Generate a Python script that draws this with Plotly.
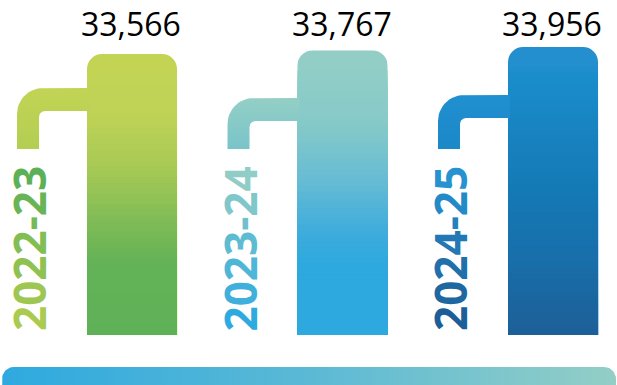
import numpy as np
import plotly.graph_objects as go

# ---- data -------------------------------------------------------------
years = ["2022-23", "2023-24", "2024-25"]
students = [33566, 33767, 33956]

# ---- styling ------------------------------------------------------------
W, H = 617, 385
PLOT_BOTTOM_PX = 335                     # bottom edge of the bar area
X_RANGE = [-0.6271, 2.3040]
Y_RANGE = [17900, 36580]
BAR_WIDTH = 0.4276

# vertical gradient stops for each bar: (fraction from top, colour)
bar_stops = [
    [(0.0, "#c3d455"), (0.2, "#c0d356"), (0.4, "#a8ca55"), (0.6, "#7fbb57"), (0.75, "#63b257"), (1.0, "#5fb157")],
    [(0.0, "#95cfc6"), (0.25, "#87cac8"), (0.45, "#68bcd3"), (0.65, "#3cabdc"), (0.75, "#2ea9df"), (1.0, "#2ea9df")],
    [(0.0, "#2890d0"), (0.1, "#1b8dcb"), (0.5, "#1479b5"), (0.75, "#186ea8"), (1.0, "#1d5f98")],
]
pipe_colors = [("#b3ce52", "#c2d455"), ("#79c4c9", "#94cfc6"), ("#1b88c8", "#2190d0")]   # bottom, top
label_colors = [("#aacb50", "#5cb157"), ("#2eaadf", "#8fcdc6"), ("#1c5f98", "#2692d0")]  # bottom, top
band_scale = [[0, "#2ea9df"], [0.5, "#5bb9d5"], [1, "#93cec6"]]
pipe_top_px = [88, 98, 95]


def hex_rgb(h):
    h = h.lstrip("#")
    return np.array([int(h[i:i + 2], 16) for i in (0, 2, 4)], dtype=float)


def rgb_hex(c):
    return "#%02x%02x%02x" % tuple(int(round(v)) for v in c)


def mix(a, b, t):
    return rgb_hex(hex_rgb(a) * (1 - t) + hex_rgb(b) * t)


def color_at(stops, f):
    for (f0, c0), (f1, c1) in zip(stops[:-1], stops[1:]):
        if f <= f1:
            return mix(c0, c1, (f - f0) / (f1 - f0) if f1 > f0 else 0)
    return stops[-1][1]


x_span = X_RANGE[1] - X_RANGE[0]
y_span = Y_RANGE[1] - Y_RANGE[0]


def x_px(x):
    return (x - X_RANGE[0]) / x_span * W


def px_x(px):
    return X_RANGE[0] + px / W * x_span


def px_y(py):
    return Y_RANGE[0] + (PLOT_BOTTOM_PX - py) / PLOT_BOTTOM_PX * y_span


fig = go.Figure()
xs = list(range(len(years)))

# ---- connector pipes (drawn first so bars sit on top) ------------------
def arc(cx, cy, r, a0, a1, n=14):
    t = np.radians(np.linspace(a0, a1, n))
    return cx + r * np.cos(t), cy - r * np.sin(t)


for i, x in enumerate(xs):
    cx = x_px(x)
    top = pipe_top_px[i]
    bot = top + 23
    left, inner, right, foot = -115, -93, -43, 149
    R, r = 26, 6
    ax, ay = arc(left + R, top + R, R, 90, 180)
    bx, by = arc(inner + r, bot + r, r, 180, 90)
    pxs = np.concatenate([[right], ax, [left, inner], bx, [right, right]])
    pys = np.concatenate([[top], ay, [foot, foot], by, [bot, top]])
    fig.add_trace(go.Scatter(
        x=[px_x(cx + p) for p in pxs], y=[px_y(q) for q in pys],
        mode="lines", line=dict(width=0), fill="toself",
        fillgradient=dict(type="vertical", colorscale=[[0, pipe_colors[i][0]], [1, pipe_colors[i][1]]]),
        hoverinfo="skip", showlegend=False,
    ))

# ---- bars: rounded full bar, then shading slices overlaid -------------
fig.add_trace(go.Bar(
    x=xs, y=students, width=BAR_WIDTH,
    marker=dict(color=[color_at(s, 0.03) for s in bar_stops], cornerradius=15, line=dict(width=0)),
    hoverinfo="skip", showlegend=False,
))
N = 48
fracs = np.linspace(0.07, 1.0, N + 1)
for k in range(N):
    f_top, f_next = fracs[k], fracs[k + 1]
    fig.add_trace(go.Bar(
        x=xs,
        y=[Y_RANGE[0] + (1 - f_top) * (v - Y_RANGE[0]) for v in students],
        width=BAR_WIDTH,
        marker=dict(color=[color_at(s, (f_top + f_next) / 2) for s in bar_stops], line=dict(width=0)),
        hoverinfo="skip", showlegend=False,
    ))

# ---- value labels --------------------------------------------------------
for x, v in zip(xs, students):
    fig.add_annotation(
        x=x, y=1 - 23 / H, xref="x", yref="paper", text=f"{v:,}", showarrow=False,
        xanchor="center", yanchor="middle", xshift=-1,
        font=dict(family="Open Sans", size=32, color="#000000"),
    )

# ---- year labels, rotated, shaded character by character -----------------
for i, (x, yr) in enumerate(zip(xs, years)):
    n = len(yr)
    spans = "".join(
        f'<span style="color:{mix(label_colors[i][0], label_colors[i][1], j / (n - 1))}">{ch}</span>'
        for j, ch in enumerate(yr)
    )
    fig.add_annotation(
        x=x, y=1 - 249 / H, xref="x", yref="paper", xshift=-103, text=spans, showarrow=False,
        textangle=-90, xanchor="center", yanchor="middle",
        font=dict(family="Open Sans", size=44, weight=700),
    )

# ---- base band -----------------------------------------------------------
bl, br, bt, bb, rr = 2, 616, 367, 400, 12
lx, ly = arc(bl + rr, bt + rr, rr, 180, 90)
rx, ry = arc(br - rr, bt + rr, rr, 90, 0)
fig.add_trace(go.Scatter(
    x=np.concatenate([[bl], lx, rx, [br, bl]]),
    y=np.concatenate([[bb], ly, ry, [bb, bb]]),
    xaxis="x2", yaxis="y2", mode="lines", line=dict(width=0), fill="toself",
    fillgradient=dict(type="horizontal", colorscale=band_scale),
    hoverinfo="skip", showlegend=False,
))

fig.update_layout(
    width=W, height=H, margin=dict(l=0, r=0, t=0, b=0),
    paper_bgcolor="white", plot_bgcolor="rgba(0,0,0,0)",
    barmode="overlay", showlegend=False,
    xaxis=dict(range=X_RANGE, visible=False, domain=[0, 1]),
    yaxis=dict(range=Y_RANGE, visible=False, domain=[1 - PLOT_BOTTOM_PX / H, 1]),
    xaxis2=dict(range=[0, W], visible=False, domain=[0, 1], anchor="y2"),
    yaxis2=dict(range=[H, PLOT_BOTTOM_PX], visible=False, domain=[0, 1 - PLOT_BOTTOM_PX / H], anchor="x2"),
)

fig.write_html("out.html")
